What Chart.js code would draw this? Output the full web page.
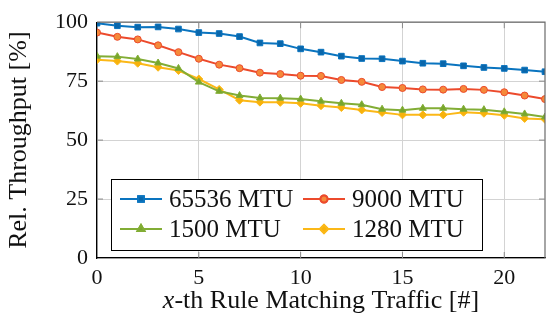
<!DOCTYPE html>
<html lang="en">
<head>
    <meta charset="UTF-8">
    <title>Rel. Throughput</title>
    <script src="https://cdn.jsdelivr.net/npm/chart.js"></script>
    <style>
        body {
            margin: 0;
            background: #fff;
        }
        #wrap {
            width: 550px;
            height: 324px;
        }
    </style>
</head>
<body>
    <div id="wrap"><canvas id="myChart" width="550" height="324"></canvas></div>

    <script>
        // data
        const xValues = [0, 1, 2, 3, 4, 5, 6, 7, 8, 9, 10, 11, 12, 13, 14, 15, 16, 17, 18, 19, 20, 21, 22];
        const mtu65536 = [99.6, 98.5, 97.9, 98.0, 97.1, 95.6, 95.2, 93.9, 91.2, 90.9, 88.7, 87.3, 85.6, 84.6, 84.5, 83.5, 82.6, 82.4, 81.5, 80.8, 80.4, 79.7, 79.0];
        const mtu9000 = [95.6, 93.8, 92.7, 90.2, 87.3, 84.5, 82.0, 80.5, 78.6, 78.0, 77.3, 77.2, 75.5, 74.7, 72.5, 72.1, 71.5, 71.4, 71.7, 71.3, 70.3, 68.9, 67.4];
        const mtu1500 = [85.6, 85.4, 84.4, 82.7, 80.4, 74.6, 70.7, 68.9, 67.9, 67.8, 67.4, 66.5, 65.6, 65.0, 63.1, 62.7, 63.5, 63.5, 63.1, 62.9, 62.0, 61.1, 59.8];
        const mtu1280 = [84.1, 83.5, 82.6, 80.9, 79.5, 75.9, 71.5, 66.9, 66.1, 66.0, 65.6, 64.6, 63.8, 62.8, 61.7, 60.7, 60.7, 60.7, 61.8, 61.4, 60.5, 59.2, 58.8];
        const seriesLabels = ['65536 MTU', '9000 MTU', '1500 MTU', '1280 MTU'];
        const yTicks = [0, 25, 50, 75, 100];
        const xTicks = [0, 5, 10, 15, 20];

        const SERIF = "'Liberation Serif', 'Times New Roman', serif";

        function pts(ys) {
            return ys.map((y, i) => ({ x: xValues[i], y: y }));
        }

        function makeSet(label, ys, color, fill, style, radius) {
            return {
                label: label,
                data: pts(ys),
                borderColor: color,
                backgroundColor: fill,
                pointBackgroundColor: fill,
                pointBorderColor: color,
                pointBorderWidth: 1,
                pointStyle: style,
                pointRadius: radius,
                borderWidth: 2,
                tension: 0
            };
        }

        const datasets = [
            makeSet(seriesLabels[0], mtu65536, '#0a74bf', '#0a66aa', 'rect', 4),
            makeSet(seriesLabels[1], mtu9000, '#ec4a2c', '#f58a3a', 'circle', 3.5),
            makeSet(seriesLabels[2], mtu1500, '#82ad35', '#77a62c', 'triangle', 4),
            makeSet(seriesLabels[3], mtu1280, '#fbb818', '#f7b20c', 'rectRot', 4)
        ];

        // frame, inner tick marks, legend and x title
        const decor = {
            id: 'decor',
            afterDatasetsDraw(chart) {
                const c = chart.ctx;
                const a = chart.chartArea;
                const xs = chart.scales.x;
                const ys = chart.scales.y;
                c.save();

                // top and right edge
                c.strokeStyle = '#6b6b6b';
                c.lineWidth = 1.2;
                c.beginPath();
                c.moveTo(a.left, a.top);
                c.lineTo(a.right, a.top);
                c.lineTo(a.right, a.bottom);
                c.stroke();

                // small inner ticks
                c.strokeStyle = '#8a8a8a';
                c.lineWidth = 1;
                c.beginPath();
                yTicks.slice(1, -1).forEach(v => {
                    const py = ys.getPixelForValue(v);
                    c.moveTo(a.left, py); c.lineTo(a.left + 6, py);
                    c.moveTo(a.right, py); c.lineTo(a.right - 6, py);
                });
                xTicks.slice(1).forEach(v => {
                    const px = xs.getPixelForValue(v);
                    c.moveTo(px, a.top); c.lineTo(px, a.top + 6);
                    c.moveTo(px, a.bottom); c.lineTo(px, a.bottom - 6);
                });
                c.stroke();

                // legend box
                const bx = a.left + 14, by = a.bottom - 79, bw = 371, bh = 71;
                c.fillStyle = '#fff';
                c.fillRect(bx, by, bw, bh);
                c.strokeStyle = '#000';
                c.lineWidth = 1;
                c.strokeRect(bx + 0.5, by + 0.5, bw, bh);

                const cols = [9, 192];
                const rows = [20, 50];
                c.font = '25px ' + SERIF;
                c.textBaseline = 'middle';
                c.textAlign = 'left';
                datasets.forEach((ds, i) => {
                    const lx = bx + cols[i % 2];
                    const ly = by + rows[Math.floor(i / 2)];
                    c.strokeStyle = ds.borderColor;
                    c.lineWidth = 2;
                    c.beginPath();
                    c.moveTo(lx, ly);
                    c.lineTo(lx + 42, ly);
                    c.stroke();
                    Chart.helpers.drawPoint(c, {
                        pointStyle: ds.pointStyle,
                        radius: ds.pointRadius,
                        borderWidth: 1
                    }, lx + 21, ly);
                    c.fillStyle = ds.pointBackgroundColor;
                    c.strokeStyle = ds.borderColor;
                    c.beginPath();
                    Chart.helpers.drawPoint(c, {
                        pointStyle: ds.pointStyle,
                        radius: ds.pointRadius,
                        borderWidth: 1
                    }, lx + 21, ly);
                    c.fillStyle = '#111';
                    c.fillText(ds.label, lx + 49, ly + 1);
                });

                // x axis title with italic x
                const t1 = 'x';
                const t2 = '-th Rule Matching Traffic [#]';
                c.fillStyle = '#111';
                c.font = 'italic 26px ' + SERIF;
                const w1 = c.measureText(t1).width;
                c.font = '26px ' + SERIF;
                const w2 = c.measureText(t2).width;
                const cx = (a.left + a.right) / 2;
                const sx = cx - (w1 + w2) / 2;
                const ty = 301;
                c.font = 'italic 26px ' + SERIF;
                c.fillText(t1, sx, ty);
                c.font = '26px ' + SERIF;
                c.fillText(t2, sx + w1, ty);

                c.restore();
            }
        };

        const ctx = document.getElementById('myChart').getContext('2d');
        const myChart = new Chart(ctx, {
            type: 'line',
            data: { datasets: datasets },
            options: {
                responsive: false,
                animation: false,
                layout: { padding: { left: 0, top: 17, right: 1, bottom: 0 } },
                plugins: {
                    legend: { display: false },
                    tooltip: { enabled: false }
                },
                scales: {
                    x: {
                        type: 'linear',
                        min: 0,
                        max: 22,
                        afterFit: s => { s.height = 66; },
                        afterBuildTicks: s => {
                            s.ticks = xTicks.map(v => ({ value: v }));
                        },
                        grid: {
                            color: '#d3d3d3',
                            lineWidth: 1,
                            drawTicks: false
                        },
                        border: { color: '#000', width: 1.3 },
                        ticks: {
                            padding: 7,
                            color: '#111',
                            font: { family: SERIF, size: 22 }
                        }
                    },
                    y: {
                        min: 0,
                        max: 100,
                        afterFit: s => { s.width = 97; },
                        afterBuildTicks: s => {
                            s.ticks = yTicks.map(v => ({ value: v }));
                        },
                        grid: {
                            color: '#d3d3d3',
                            lineWidth: 1,
                            drawTicks: false
                        },
                        border: { color: '#000', width: 1.3 },
                        ticks: {
                            padding: 9,
                            color: '#111',
                            font: { family: SERIF, size: 22 }
                        },
                        title: {
                            display: true,
                            text: 'Rel. Throughput [%]',
                            color: '#111',
                            font: { family: SERIF, size: 26 },
                            padding: { top: 4, bottom: 0 }
                        }
                    }
                }
            },
            plugins: [decor]
        });
    </script>
</body>
</html>
